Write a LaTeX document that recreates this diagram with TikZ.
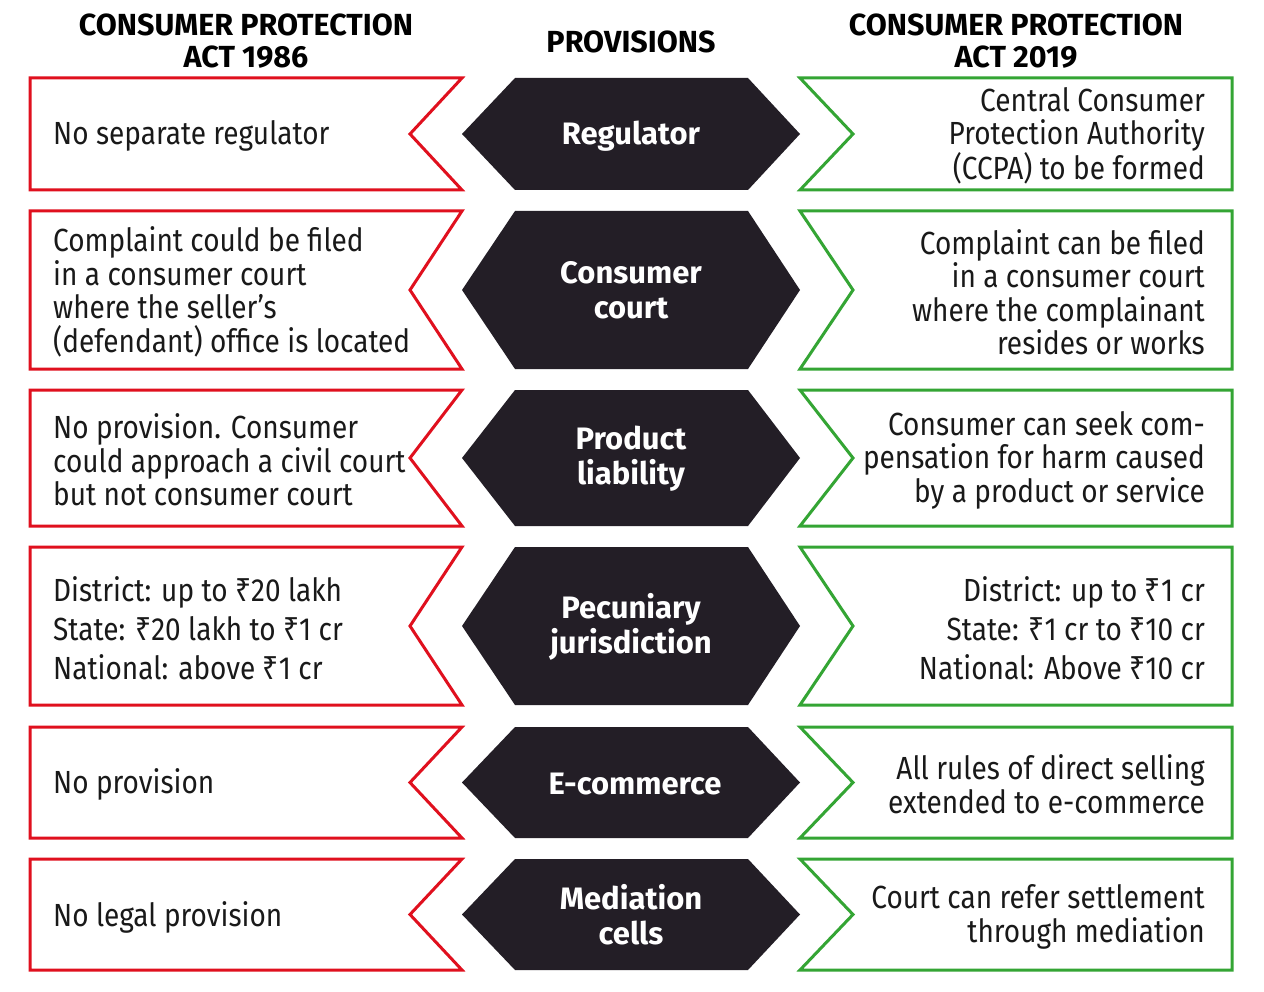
\documentclass[tikz,border=0pt]{standalone}
\usepackage{fontspec}
\setmainfont{Fira Sans}[FakeStretch=0.875]
\newfontfamily\headfont{Fira Sans}[UprightFont=* Bold]
\newfontfamily\rupeefont{Noto Sans}[FakeStretch=0.88]
\newcommand\rs{{\rupeefont ₹}}
\definecolor{cpred}{HTML}{E0101E}
\definecolor{cpgreen}{HTML}{34A534}
\definecolor{cphex}{HTML}{231E26}
\tikzset{
  oldbox/.style={draw=cpred, line width=3pt, fill=white},
  newbox/.style={draw=cpgreen, line width=3pt, fill=white},
  hexbox/.style={fill=cphex},
  oldtext/.style={anchor=west, align=left, inner sep=0pt, yshift=-2pt, font=\fontsize{32}{33.5}\selectfont, text=black!90},
  newtext/.style={anchor=east, align=right, inner sep=0pt, yshift=-2pt, font=\fontsize{32}{33.5}\selectfont, text=black!90},
  hextext/.style={align=center, inner sep=0pt, text=white, font=\headfont\fontsize{31}{35}\selectfont},
  headtext/.style={align=center, inner sep=0pt, text=black, font=\headfont\fontsize{30.5}{32}\selectfont}
}
\newcommand\cprow[2]{%
  \pgfmathsetmacro\cpm{(#1+#2)/2}
  \draw[oldbox] (30,#1) -- (462,#1) -- (410,\cpm) -- (462,#2) -- (30,#2) -- cycle;
  \fill[hexbox] (462,\cpm) -- (515,#1) -- (748,#1) -- (800,\cpm) -- (748,#2) -- (515,#2) -- cycle;
  \draw[newbox] (800,#1) -- (1232,#1) -- (1232,#2) -- (800,#2) -- (853,\cpm) -- cycle;
}
\begin{document}
\begin{tikzpicture}[x=1pt,y=-1pt]
\useasboundingbox[fill=white] (0,0) rectangle (1264,992);
\node[headtext] (h1) at (246,41) {CONSUMER PROTECTION\\ACT 1986};
\node[headtext] (h2) at (631,42) {PROVISIONS};
\node[headtext] (h3) at (1016,41) {CONSUMER PROTECTION\\ACT 2019};

\cprow{78}{190}
\cprow{211}{369}
\cprow{390}{526}
\cprow{547}{705}
\cprow{727}{838}
\cprow{859}{970}

% row 1
\node[oldtext] (o1) at (53,134) {No separate regulator};
\node[hextext] (p1) at (631,136) {Regulator};
\node[newtext] (n1) at (1205,134) {Central Consumer\\Protection Authority\\(CCPA) to be formed};
% row 2
\node[oldtext] (o2) at (53,290) {Complaint could be filed\\in a consumer court\\where the seller's\\(defendant) office is located};
\node[hextext] (p2) at (631,290) {Consumer\\court};
\node[newtext] (n2) at (1205,290) {Complaint can be filed\\in a consumer court\\where the complainant\\resides or works};
% row 3
\node[oldtext] (o3) at (53,458) {No provision. Consumer\\could approach a civil court\\but not consumer court};
\node[hextext] (p3) at (631,459) {Product\\liability};
\node[newtext] (n3) at (1205,458) {Consumer can seek com-\\pensation for harm caused\\by a product or service};
% row 4
\node[oldtext, font=\fontsize{32}{39}\selectfont] (o4) at (53,626) {District: up to \rs20 lakh\\State: \rs20 lakh to \rs1 cr\\National: above \rs1 cr};
\node[hextext] (p4) at (631,627) {Pecuniary\\jurisdiction};
\node[newtext, font=\fontsize{32}{39}\selectfont] (n4) at (1205,626) {District: up to \rs1 cr\\State: \rs1 cr to \rs10 cr\\National: Above \rs10 cr};
% row 5
\node[oldtext] (o5) at (53,782) {No provision};
\node[hextext] (p5) at (635,784) {E-commerce};
\node[newtext] (n5) at (1205,782) {All rules of direct selling\\extended to e-commerce};
% row 6
\node[oldtext] (o6) at (53,915) {No legal provision};
\node[hextext] (p6) at (631,915) {Mediation\\cells};
\node[newtext] (n6) at (1205,915) {Court can refer settlement\\through mediation};
\end{tikzpicture}
\end{document}
